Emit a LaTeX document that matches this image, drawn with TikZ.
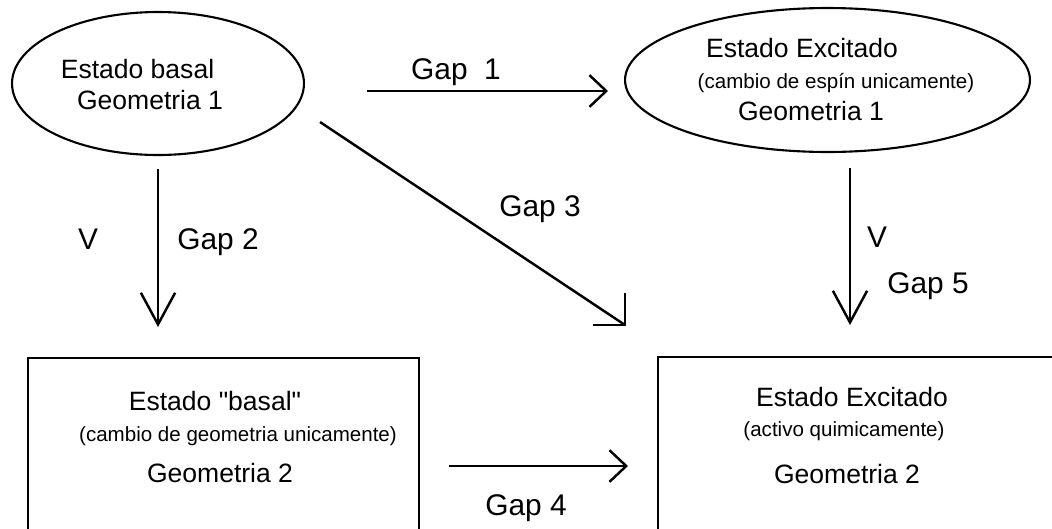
\documentclass[tikz,border=0pt]{standalone}
\usepackage{fontspec}
\setmainfont{Liberation Sans}
\newfontfamily\nomapsans{Liberation Sans}
\usetikzlibrary{arrows.meta,shapes.geometric}
\tikzset{
  shapeline/.style={draw=black, line width=1.2pt},
  conn/.style={draw=black, line width=1.4pt},
  varrow/.style={conn, -{Straight Barb[length=18pt,width=19.5pt]}},
  harrow/.style={conn, -{Straight Barb[length=9.5pt,width=18pt]}},
  bigtxt/.style={anchor=base, inner sep=0pt, font=\fontsize{15.1}{18}\selectfont},
  smalltxt/.style={anchor=base, inner sep=0pt, font=\fontsize{11.7}{14}\selectfont},
  gaptxt/.style={anchor=base, inner sep=0pt, font=\fontsize{17}{20}\selectfont},
}
\begin{document}
\begin{tikzpicture}[x=0.02cm, y=-0.02cm]
\useasboundingbox (0,0) rectangle (1052,528);
\clip (0,0) rectangle (1052,528);
% states
\node[shapeline, ellipse, minimum width=5.84cm, minimum height=2.86cm, inner sep=0pt] (e1) at (158,83.5) {};
\node[shapeline, ellipse, minimum width=8.1cm, minimum height=2.88cm, inner sep=0pt] (e2) at (827.5,80) {};
\node[shapeline, rectangle, minimum width=7.82cm, minimum height=3.74cm, inner sep=0pt] (b1) at (223.5,451.5) {};
\node[shapeline, rectangle, minimum width=8.14cm, minimum height=3.76cm, inner sep=0pt] (b2) at (861.5,451) {};
% texts
\node[bigtxt] (t1a) at (137.5,78) {Estado basal};
\node[bigtxt] (t1b) at (150,109) {Geometria 1};
\node[bigtxt] (t2a) at (802,57) {Estado Excitado};
\node[smalltxt] (t2b) at (836,88) {(cambio de espín unicamente)};
\node[bigtxt] (t2c) at (811,120) {Geometria 1};
\node[bigtxt, font=\nomapsans\fontsize{15.1}{18}\selectfont] (t3a) at (215,410) {Estado "basal"};
\node[smalltxt] (t3b) at (238,441) {(cambio de geometria unicamente)};
\node[bigtxt] (t3c) at (220,482) {Geometria 2};
\node[bigtxt] (t4a) at (852,406) {Estado Excitado};
\node[smalltxt] (t4b) at (844,436) {(activo quimicamente)};
\node[bigtxt] (t4c) at (847,483) {Geometria 2};
% connector end points
\coordinate (g1s) at (367,91);  \coordinate (g1e) at (608,91);
\coordinate (g2s) at (158,169); \coordinate (g2e) at (158,327);
\coordinate (g3s) at (320,122); \coordinate (g3e) at (625,325);
\coordinate (g4s) at (449,466); \coordinate (g4e) at (628,466);
\coordinate (g5s) at (850,168); \coordinate (g5e) at (850,325);
% connectors
\draw[harrow] (g1s) -- (g1e);
\draw[varrow] (g2s) -- (g2e);
\draw[conn] (g3s) -- (g3e);
\draw[conn, line join=miter] ([yshift=0.64cm]g3e) -- (g3e) -- ([xshift=-0.64cm]g3e);
\draw[harrow] (g4s) -- (g4e);
\draw[varrow] (g5s) -- (g5e);
% labels
\node[gaptxt] (l1) at (456,79) {Gap\ \ 1};
\node[gaptxt] (lv1) at (88,249) {V};
\node[gaptxt] (l2) at (218,249) {Gap 2};
\node[gaptxt] (l3) at (540,216) {Gap 3};
\node[gaptxt] (lv2) at (877,247) {V};
\node[gaptxt] (l5) at (928,293) {Gap 5};
\node[gaptxt] (l4) at (526,515) {Gap 4};
\end{tikzpicture}
\end{document}
